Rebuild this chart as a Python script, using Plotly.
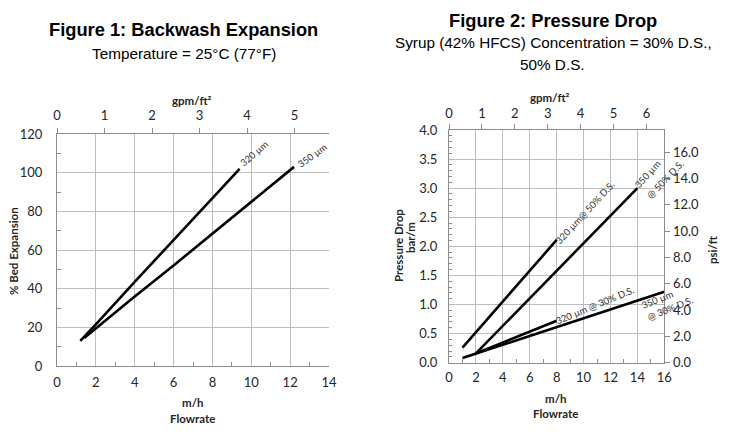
import plotly.graph_objects as go

W, H = 741, 437
# the page body adds an 8px margin around the figure; lay out in window pixels
OFF = 8

# ---------------- data: Figure 1 (Backwash Expansion) ----------------
flow_320 = [1.2, 2, 4, 6, 8, 9.4]
bed_320 = [13, 21.5, 43.5, 65, 87, 102]
flow_350 = [1.4, 2, 4, 6, 8, 10, 12.2]
bed_350 = [14.5, 19.5, 36, 52, 68.5, 85, 103]

# ---------------- data: Figure 2 (Pressure Drop) ----------------
flow_320_50 = [1, 8]
dp_320_50 = [0.26, 2.11]
flow_350_50 = [2, 14]
dp_350_50 = [0.16, 3.0]
flow_320_30 = [2, 8]
dp_320_30 = [0.16, 0.72]
flow_350_30 = [1, 16]
dp_350_30 = [0.08, 1.22]

MH_PER_GPMFT2 = 2.445      # 1 gpm/ft2 = 2.445 m/h
PSIFT_PER_BARM = 4.4209    # 1 bar/m = 4.4209 psi/ft

GRID = "#bdbdbd"
AXL = "#8c8c8c"
TICKFONT = dict(family="Lato", size=13, color="#262626")
BOLD = dict(family="Lato", size=11.5, color="#262626")


def px(x):
    return (x - OFF) / W


def py(y):
    return 1 - (y - OFF) / H


fig = go.Figure()

line = dict(color="black", width=2.6)
fig.add_trace(go.Scatter(x=flow_320, y=bed_320, mode="lines", line=line, xaxis="x", yaxis="y"))
fig.add_trace(go.Scatter(x=flow_350, y=bed_350, mode="lines", line=line, xaxis="x", yaxis="y"))
fig.add_trace(go.Scatter(x=[], y=[], mode="lines", xaxis="x2", yaxis="y"))

fig.add_trace(go.Scatter(x=flow_320_50, y=dp_320_50, mode="lines", line=line, xaxis="x3", yaxis="y3"))
fig.add_trace(go.Scatter(x=flow_350_50, y=dp_350_50, mode="lines", line=line, xaxis="x3", yaxis="y3"))
fig.add_trace(go.Scatter(x=flow_320_30, y=dp_320_30, mode="lines", line=line, xaxis="x3", yaxis="y3"))
fig.add_trace(go.Scatter(x=flow_350_30, y=dp_350_30, mode="lines", line=line, xaxis="x3", yaxis="y3"))
fig.add_trace(go.Scatter(x=[], y=[], mode="lines", xaxis="x4", yaxis="y3"))
fig.add_trace(go.Scatter(x=[], y=[], mode="lines", xaxis="x3", yaxis="y4"))

common = dict(zeroline=False, tickfont=TICKFONT, fixedrange=True, automargin=False)

fig.update_layout(
    width=W, height=H, margin=dict(l=0, r=0, t=0, b=0),
    paper_bgcolor="white", plot_bgcolor="white", showlegend=False,
    xaxis=dict(domain=[px(57), px(329)], range=[0, 14], dtick=2, anchor="y",
               showgrid=True, gridcolor=GRID, gridwidth=1, showline=True, linecolor=AXL,
               ticks="", ticklabelstandoff=4,
               minor=dict(dtick=1, ticks="inside", ticklen=4, tickcolor=AXL, showgrid=False),
               **common),
    yaxis=dict(domain=[py(366), py(134)], range=[0, 120], dtick=20, anchor="x",
               showgrid=True, gridcolor=GRID, gridwidth=1, showline=True, linecolor=AXL,
               ticks="", ticklabelstandoff=11,
               minor=dict(dtick=10, ticks="inside", ticklen=4, tickcolor=AXL, showgrid=False),
               **common),
    xaxis2=dict(overlaying="x", side="top", anchor="y", range=[0, 14 / MH_PER_GPMFT2], dtick=1,
                showgrid=False, showline=True, linecolor=AXL, ticks="outside", ticklen=5,
                tickcolor=AXL, ticklabelstandoff=3, **common),
    xaxis3=dict(domain=[px(449), px(664.3)], range=[0, 16], dtick=2, anchor="y3",
                showgrid=True, gridcolor=GRID, gridwidth=1, showline=True, linecolor=AXL,
                ticks="", ticklabelstandoff=3,
                minor=dict(dtick=1, ticks="inside", ticklen=4, tickcolor=AXL, showgrid=False),
                **common),
    yaxis3=dict(domain=[py(362.7), py(130)], range=[0, 4], dtick=0.5, tickformat=".1f", anchor="x3",
                showgrid=True, gridcolor=GRID, gridwidth=1, showline=True, linecolor=AXL,
                ticks="", ticklabelstandoff=8,
                minor=dict(dtick=0.1, ticks="inside", ticklen=3, tickcolor=AXL, showgrid=False),
                **common),
    xaxis4=dict(overlaying="x3", side="top", anchor="y3", range=[0, 16 / MH_PER_GPMFT2], dtick=1,
                showgrid=False, showline=True, linecolor=AXL, ticks="outside", ticklen=5,
                tickcolor=AXL, ticklabelstandoff=1, **common),
    yaxis4=dict(overlaying="y3", side="right", anchor="x3", range=[0, 4 * PSIFT_PER_BARM], dtick=2,
                tickformat=".1f", showgrid=False, showline=True, linecolor=AXL,
                ticks="outside", ticklen=5, tickcolor=AXL, ticklabelstandoff=0, **common),
)

ann = []


def paper_text(text, x, y, font, angle=0):
    ann.append(dict(text=text, x=px(x), y=py(y), xref="paper", yref="paper",
                    xanchor="center", yanchor="middle", showarrow=False, font=font,
                    textangle=angle))


TITLE = dict(family="Liberation Sans", size=18.3, color="black")
SUB = dict(family="Liberation Sans", size=15.3, color="black")

paper_text("<b>Figure 1: Backwash Expansion</b>", 183, 30, TITLE)
paper_text("Temperature = 25°C (77°F)", 184, 53, SUB)
paper_text("<b>Figure 2: Pressure Drop</b>", 553, 20, TITLE)
paper_text("Syrup (42% HFCS) Concentration = 30% D.S.,", 553, 43, SUB)
paper_text("50% D.S.", 552, 64, SUB)

paper_text("<b>gpm/ft²</b>", 192, 100, BOLD)
paper_text("<b>m/h</b>", 192, 402, BOLD)
paper_text("<b>Flowrate</b>", 192, 418, BOLD)
paper_text("<b>% Bed Expansion</b>", 13, 251, BOLD, -90)

paper_text("<b>gpm/ft²</b>", 550, 97, BOLD)
paper_text("<b>m/h</b>", 555, 398, BOLD)
paper_text("<b>Flowrate</b>", 555, 413, BOLD)
paper_text("<b>Pressure Drop</b>", 398, 246, BOLD, -90)
paper_text("<b>bar/m</b>", 410, 238, BOLD, -90)
paper_text("<b>psi/ft</b>", 712, 250, BOLD, -90)

LBL = dict(family="Lato", size=9.5, color="#333333")


def data_text(text, x, y, xr, yr, angle):
    ann.append(dict(text=text, x=x, y=y, xref=xr, yref=yr, xanchor="center", yanchor="middle",
                    showarrow=False, font=LBL, textangle=angle))


data_text("320 µm", 10.15, 109.7, "x", "y", -41)
data_text("350 µm", 13.14, 108.8, "x", "y", -36)
data_text("320 µm@ 50% D.S.", 10.1, 2.59, "x3", "y3", -47)
data_text("350 µm", 14.73, 3.24, "x3", "y3", -48)
data_text("320 µm @ 30% D.S.", 10.82, 0.99, "x3", "y3", -22.5)
data_text("350 µm", 15.5, 1.08, "x3", "y3", -22)
# second label lines sit just beyond the plot's right edge -> paper coordinates
ann.append(dict(text="@ 50% D.S.", x=px(665), y=py(179.3), xref="paper", yref="paper",
                xanchor="center", yanchor="middle", showarrow=False, font=LBL, textangle=-46))
ann.append(dict(text="@ 30% D.S.", x=px(670), y=py(308.3), xref="paper", yref="paper",
                xanchor="center", yanchor="middle", showarrow=False, font=LBL, textangle=-22))

fig.update_layout(annotations=ann)

fig.write_html("out.html")
